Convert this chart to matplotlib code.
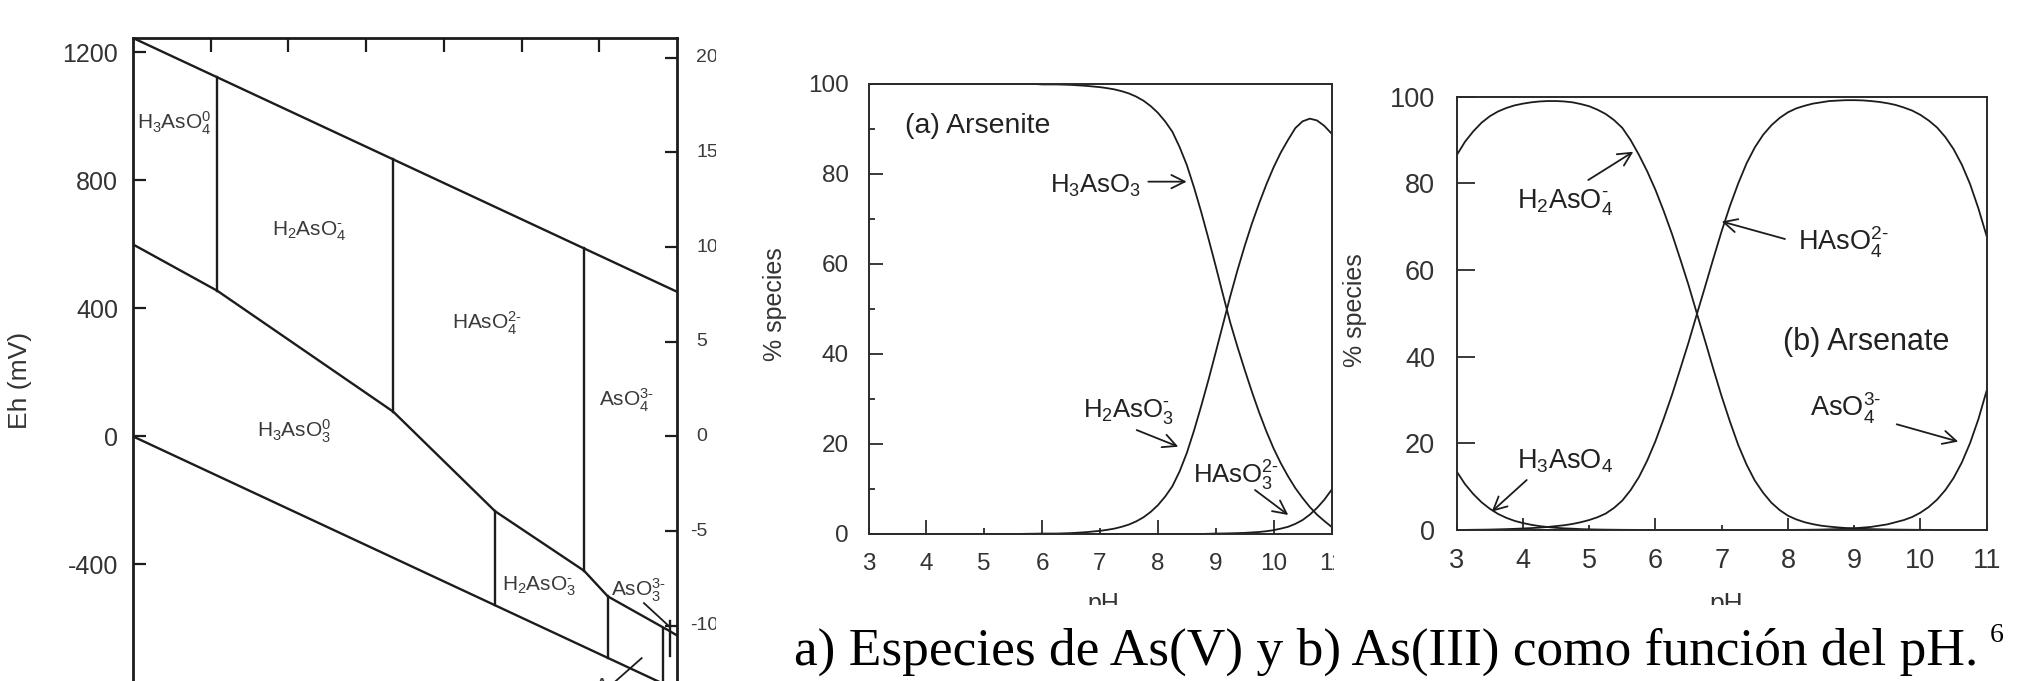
import matplotlib
matplotlib.use('Agg')
import matplotlib.pyplot as plt
from matplotlib.transforms import Bbox, blended_transform_factory

plt.rcParams['font.family'] = ['Liberation Sans', 'DejaVu Sans']
plt.rcParams['mathtext.fontset'] = 'custom'
plt.rcParams['mathtext.rm'] = 'Liberation Sans'
plt.rcParams['mathtext.it'] = 'Liberation Sans:italic'
plt.rcParams['mathtext.bf'] = 'Liberation Sans:bold'
plt.rcParams['mathtext.sf'] = 'Liberation Sans'
plt.rcParams['axes.unicode_minus'] = False

W, H, DPI = 2041, 681, 100

# ---------------- data: Eh-pH diagram ----------------
eh_ph_ends = [0, 14]
eh_upper_water = [1245, 452]
eh_lower_water = [0, -793]
redox_ph = [0, 2.17, 6.70, 9.32, 11.61, 12.22, 13.82, 14.0]
redox_eh = [600, 455, 77, -234, -420, -500, -609, -622]
bound_ph = [2.17, 6.70, 11.61, 9.32, 12.22, 13.64, 13.82]
bound_eh_top = [1122, 866, 588, -234, -500, -603, -578]
bound_eh_bot = [455, 77, -420, -528, -692, -1000, -687]
leader_ph = [[13.15, 13.82], [13.09, 12.28]]
leader_eh = [[-521, -596], [-693, -780]]
eh_yticks = [1200, 800, 400, 0, -400, -800]
pe_ticks = [20, 15, 10, 5, 0, -5, -10, -15]
pe_labels = [20, 15, 10, 5, 0, -5, -10]
ph_top_ticks = [2, 4, 6, 8, 10, 12]
eh_species = [r'H$_3$AsO$_4^0$', r'H$_2$AsO$_4^{\text{-}}$', r'HAsO$_4^{2\text{-}}$',
              r'AsO$_4^{3\text{-}}$', r'H$_3$AsO$_3^0$', r'H$_2$AsO$_3^{\text{-}}$',
              r'AsO$_3^{3\text{-}}$', 'As']

# ---------------- data: speciation curves (% of total) ----------------
ph = [3.0, 3.125, 3.25, 3.375, 3.5, 3.625, 3.75, 3.875, 4.0, 4.125, 4.25, 4.375, 4.5,
      4.625, 4.75, 4.875, 5.0, 5.125, 5.25, 5.375, 5.5, 5.625, 5.75, 5.875, 6.0, 6.125,
      6.25, 6.375, 6.5, 6.625, 6.75, 6.875, 7.0, 7.125, 7.25, 7.375, 7.5, 7.625, 7.75,
      7.875, 8.0, 8.125, 8.25, 8.375, 8.5, 8.625, 8.75, 8.875, 9.0, 9.125, 9.25, 9.375,
      9.5, 9.625, 9.75, 9.875, 10.0, 10.125, 10.25, 10.375, 10.5, 10.625, 10.75, 10.875,
      11.0]
h3aso3 = [100, 100, 100, 100, 100, 100, 100, 100, 100, 100, 100, 100, 100,
          100, 100, 100, 100, 100, 100, 100, 100, 100, 100, 100, 99.9, 99.9,
          99.9, 99.85, 99.8, 99.7, 99.6, 99.45, 99.3, 99.07, 98.8, 98.4, 97.9, 97.2, 96.3,
          95.1, 93.6, 91.7, 89.4, 86.0, 82.0, 77.0, 71.5, 65.6, 59.5, 53.2, 47.0, 41.6,
          36.5, 31.6, 27.0, 22.8, 19.0, 15.7, 12.8, 10.2, 8.0, 6.0, 4.3, 2.9,
          1.6]
h2aso3 = [0, 0, 0, 0, 0, 0, 0, 0, 0, 0, 0, 0, 0,
          0, 0, 0, 0, 0, 0, 0, 0, 0.02, 0.05, 0.07, 0.1, 0.1,
          0.1, 0.15, 0.2, 0.3, 0.4, 0.55, 0.7, 0.93, 1.2, 1.6, 2.1, 2.8, 3.7,
          4.9, 6.4, 8.3, 10.6, 13.9, 18.0, 23.0, 28.5, 34.3, 40.4, 46.6, 52.8, 58.6,
          64.0, 69.0, 73.5, 77.7, 81.5, 84.8, 87.6, 90.2, 91.7, 92.3, 91.9, 90.7,
          89.0]
haso3 = [0, 0, 0, 0, 0, 0, 0, 0, 0, 0, 0, 0, 0,
         0, 0, 0, 0, 0, 0, 0, 0, 0, 0, 0, 0, 0,
         0, 0, 0, 0, 0, 0, 0, 0, 0, 0, 0, 0, 0,
         0, 0, 0, 0, 0, 0, 0, 0, 0.05, 0.1, 0.12, 0.15, 0.2,
         0.25, 0.35, 0.45, 0.62, 0.85, 1.2, 1.6, 2.25, 3.1, 4.3, 5.8, 7.6,
         9.8]
h3aso4 = [13.5, 10.6, 8.3, 6.4, 4.9, 3.7, 2.8, 2.1, 1.6, 1.2, 0.9, 0.67, 0.5,
          0.38, 0.3, 0.2, 0.15, 0.11, 0.08, 0.06, 0.04, 0.03, 0.02, 0, 0, 0,
          0, 0, 0, 0, 0, 0, 0, 0, 0, 0, 0, 0, 0,
          0, 0, 0, 0, 0, 0, 0, 0, 0, 0, 0, 0, 0,
          0, 0, 0, 0, 0, 0, 0, 0, 0, 0, 0, 0,
          0]
h2aso4 = [86.5, 89.6, 92.0, 94.0, 95.5, 96.6, 97.4, 98.0, 98.4, 98.7, 98.9, 99.0, 99.0,
          98.9, 98.7, 98.3, 97.8, 97.0, 96.0, 94.6, 92.8, 90.0, 86.6, 82.8, 78.5, 73.6,
          68.3, 62.5, 56.5, 50.0, 43.6, 37.1, 30.8, 25.0, 19.6, 15.1, 11.4, 8.6, 6.3,
          4.6, 3.3, 2.45, 1.8, 1.35, 1.0, 0.78, 0.6, 0.46, 0.35, 0.27, 0.2, 0.16,
          0.12, 0.09, 0.07, 0.05, 0.04, 0.03, 0.02, 0.015, 0.01, 0.005, 0, 0,
          0]
haso4 = [0, 0.02, 0.05, 0.07, 0.1, 0.15, 0.2, 0.27, 0.35, 0.44, 0.55, 0.7, 0.9,
         1.1, 1.4, 1.8, 2.3, 2.95, 3.8, 5.1, 6.8, 9.2, 12.2, 16.0, 20.5, 25.7,
         31.2, 37.2, 43.3, 49.8, 56.2, 62.7, 69.0, 74.8, 80.0, 84.6, 88.3, 91.2, 93.4,
         95.1, 96.4, 97.3, 97.9, 98.4, 98.7, 99.0, 99.1, 99.2, 99.2, 99.15, 99.0, 98.8,
         98.5, 98.1, 97.5, 96.8, 95.8, 94.5, 92.9, 90.7, 87.9, 84.3, 79.8, 74.2,
         67.8]
aso4 = [0, 0, 0, 0, 0, 0, 0, 0, 0, 0, 0, 0, 0,
        0, 0, 0, 0, 0, 0, 0, 0, 0, 0, 0, 0, 0,
        0, 0, 0, 0, 0, 0, 0, 0, 0, 0, 0, 0, 0,
        0, 0.02, 0.03, 0.05, 0.07, 0.1, 0.15, 0.2, 0.3, 0.4, 0.55, 0.7, 1.0,
        1.3, 1.8, 2.3, 3.0, 4.0, 5.3, 7.0, 9.2, 12.0, 15.6, 20.1, 25.6,
        32.2]
pct_ticks = [0, 20, 40, 60, 80, 100]
pct_minor = [10, 30, 50, 70, 90]
ph_major = [4, 6, 8, 10]
ph_minor = [3, 5, 7, 9, 11]
caption = 'a) Especies de As(V) y b) As(III) como función del pH.'
caption_ref = '6'

# ---------------- figure ----------------
fig = plt.figure(figsize=(W / DPI, H / DPI), dpi=DPI)


def frect(x0, y0, x1, y1):
    return [x0 / W, 1 - y1 / H, (x1 - x0) / W, (y1 - y0) / H]


def clipped_text(x, y, s, clip, **kw):
    t = fig.text(x / W, 1 - y / H, s, **kw)
    t.set_clip_on(True)
    x0, y0, x1, y1 = clip
    t.set_clip_box(Bbox.from_extents(x0, H - y1, x1, H - y0))
    return t


LC = '#1c1c1c'
TC = '#333333'

# ---- panel 1: Eh-pH ----
axL = fig.add_axes(frect(133, 38, 677, 756.4))
axL.set_xlim(0, 14)
axL.set_ylim(-1000, 1245)
lw = 1.7
axL.plot(eh_ph_ends, eh_upper_water, color=LC, lw=lw)
axL.plot(eh_ph_ends, eh_lower_water, color=LC, lw=lw)
axL.plot(redox_ph, redox_eh, color=LC, lw=lw)
for p, a, b in zip(bound_ph, bound_eh_top, bound_eh_bot):
    axL.plot([p, p], [a, b], color=LC, lw=lw)
for lp, le in zip(leader_ph, leader_eh):
    axL.plot(lp, le, color=LC, lw=1.3)
for s in axL.spines.values():
    s.set_linewidth(2.0)
    s.set_color(LC)
axL.set_yticks(eh_yticks)
axL.set_yticklabels([str(v) for v in eh_yticks])
axL.set_xticks(ph_top_ticks)
axL.tick_params(axis='y', direction='in', length=9, width=1.6, left=True, right=False,
                labelsize=18, labelcolor=TC, pad=10.8, color=LC)
axL.tick_params(axis='x', direction='in', length=10, width=1.6, top=True, bottom=False,
                labelbottom=False, labeltop=False, color=LC)
lab_pos = [(0.10, 959, 'left', 'baseline'), (3.585, 627, 'left', 'baseline'),
           (8.21, 335, 'left', 'baseline'), (12.0, 95, 'left', 'baseline'),
           (3.196, -4, 'left', 'baseline'), (9.49, -480, 'left', 'baseline'),
           (12.29, -499, 'left', 'baseline'), (11.9, -752, 'left', 'top')]
for lab, (x, y, ha, va) in zip(eh_species, lab_pos):
    axL.text(x, y, lab, fontsize=15, color='#3a3a3a', ha=ha, va=va)

axP = axL.twinx()
axP.set_ylim(-1000 / 59.16, 1245 / 59.16)
axP.set_yticks(pe_ticks)
axP.tick_params(axis='y', direction='in', length=9, width=1.6, right=True,
                labelright=False, color=LC)
for s in axP.spines.values():
    s.set_visible(False)
bt = blended_transform_factory(fig.transFigure, axP.transData)
for v in pe_labels:
    xs = 690 if v < 0 else 696
    t = fig.text(xs / W, v, str(v), transform=bt, fontsize=14, color='#3a3a3a',
                 ha='left', va='center')
    t.set_clip_on(True)
    t.set_clip_box(Bbox.from_extents(0, 0, 716, H))

fig.text(20 / W, 1 - 380 / H, 'Eh (mV)', rotation=90, ha='center', va='center',
         fontsize=19, color=TC)

# ---- panel 2: arsenite ----
axM = fig.add_axes(frect(868.5, 84, 1331.5, 534))
axM.set_xlim(3, 11)
axM.set_ylim(0, 100)
for ser in (h3aso3, h2aso3, haso3):
    axM.plot(ph, ser, color=LC, lw=1.3)
for s in axM.spines.values():
    s.set_linewidth(1.4)
    s.set_color('#2a2a2a')
axM.set_xticks(ph_major)
axM.set_xticks(ph_minor, minor=True)
axM.set_xticklabels([str(v) for v in ph_major])
axM.set_xticklabels([str(v) if v != 11 else '' for v in ph_minor], minor=True)
axM.set_yticks(pct_ticks)
axM.set_yticks(pct_minor, minor=True)
axM.set_yticklabels([str(v) for v in pct_ticks])
axM.tick_params(axis='both', which='major', direction='in', length=10, width=1.3,
                labelsize=17.5, labelcolor=TC, color='#2a2a2a')
axM.tick_params(axis='x', which='both', pad=13.5)
axM.tick_params(axis='y', which='major', pad=14)
axM.tick_params(axis='both', which='minor', direction='in', length=4.5, width=1.3,
                labelsize=17.5, labelcolor=TC, color='#2a2a2a')
axM.tick_params(axis='y', which='minor', labelleft=False)
clipped_text(1331.5, 552.7, '11', (0, 0, 1334, H), fontsize=17.5, color=TC,
             ha='center', va='top')
fig.text(775 / W, 1 - 304 / H, '% species', rotation=90, ha='center', va='center',
         fontsize=18, color=TC)
clipped_text(1103, 611, 'pH', (0, 0, W, 605), fontsize=18, color=TC,
             ha='center', va='baseline')
axM.text(3.63, 89.2, '(a) Arsenite', fontsize=20.5, color='#222222', va='baseline')
fs_sp = 18.5
axM.text(6.136, 75.8, r'H$_3$AsO$_3$', fontsize=fs_sp, color='#222222', va='baseline')
axM.text(6.706, 26.0, r'H$_2$AsO$_3^{\text{-}}$', fontsize=fs_sp, color='#222222',
         va='baseline')
axM.text(8.607, 11.27, r'HAsO$_3^{2\text{-}}$', fontsize=fs_sp, color='#222222',
         va='baseline')
ap = dict(arrowstyle='->', lw=1.3, color=LC, shrinkA=0, shrinkB=0, mutation_scale=24)
axM.annotate('', xy=(8.498, 78.3), xytext=(7.835, 78.3), arrowprops=ap)
axM.annotate('', xy=(8.353, 19.4), xytext=(7.634, 23.1), arrowprops=ap)
axM.annotate('', xy=(10.253, 4.22), xytext=(9.678, 9.78), arrowprops=ap)

# ---- panel 3: arsenate ----
axR = fig.add_axes(frect(1456.7, 96.7, 1986.7, 530))
axR.set_xlim(3, 11)
axR.set_ylim(0, 100)
for ser in (h3aso4, h2aso4, haso4, aso4):
    axR.plot(ph, ser, color=LC, lw=1.3)
for s in axR.spines.values():
    s.set_linewidth(1.4)
    s.set_color('#2a2a2a')
axR.set_xticks(ph_major)
axR.set_xticks(ph_minor, minor=True)
axR.set_xticklabels([str(v) for v in ph_major])
axR.set_xticklabels([str(v) for v in ph_minor], minor=True)
axR.set_yticks(pct_ticks)
axR.set_yticklabels([str(v) for v in pct_ticks])
axR.tick_params(axis='x', which='major', direction='in', length=8.5, width=1.3,
                labelsize=19.5, labelcolor=TC, color='#2a2a2a', pad=13)
axR.tick_params(axis='x', which='minor', direction='in', length=3.6, width=1.3,
                labelsize=19.5, labelcolor=TC, color='#2a2a2a', pad=13)
axR.tick_params(axis='y', which='major', direction='in', length=13, width=1.3,
                labelsize=19.5, labelcolor=TC, color='#2a2a2a', pad=15.6)
fig.text(1355 / W, 1 - 310 / H, '% species', rotation=90, ha='center', va='center',
         fontsize=18, color=TC)
clipped_text(1726, 611, 'pH', (0, 0, W, 605), fontsize=19, color=TC,
             ha='center', va='baseline')
fs_r = 19.5
axR.text(7.925, 41.5, '(b) Arsenate', fontsize=22, color='#222222', va='baseline')
axR.text(3.906, 74.24, r'H$_2$AsO$_4^{\text{-}}$', fontsize=fs_r, color='#222222',
         va='baseline')
axR.text(3.906, 14.24, r'H$_3$AsO$_4$', fontsize=fs_r, color='#222222', va='baseline')
axR.text(8.152, 64.6, r'HAsO$_4^{2\text{-}}$', fontsize=fs_r, color='#222222',
         va='baseline')
axR.text(8.333, 26.1, r'AsO$_4^{3\text{-}}$', fontsize=fs_r, color='#222222',
         va='baseline')
axR.annotate('', xy=(5.666, 87.3), xytext=(4.986, 80.77), arrowprops=ap)
axR.annotate('', xy=(3.528, 4.22), xytext=(4.057, 11.54), arrowprops=ap)
axR.annotate('', xy=(7.0, 71.2), xytext=(7.955, 67.16), arrowprops=ap)
axR.annotate('', xy=(10.571, 20.4), xytext=(9.642, 24.4), arrowprops=ap)

# ---- caption ----
cap = fig.text(794 / W, 1 - 665 / H, caption, family='Liberation Serif', fontsize=38,
               color='black', ha='left', va='baseline')
fig.canvas.draw()
bb = cap.get_window_extent()
cap.set_fontsize(38 * 1183.0 / bb.width)
fig.text(1990 / W, 1 - 642 / H, caption_ref, family='Liberation Serif', fontsize=20,
         color='black', ha='left', va='baseline')

fig.savefig('out.png', dpi=DPI, facecolor='white')
